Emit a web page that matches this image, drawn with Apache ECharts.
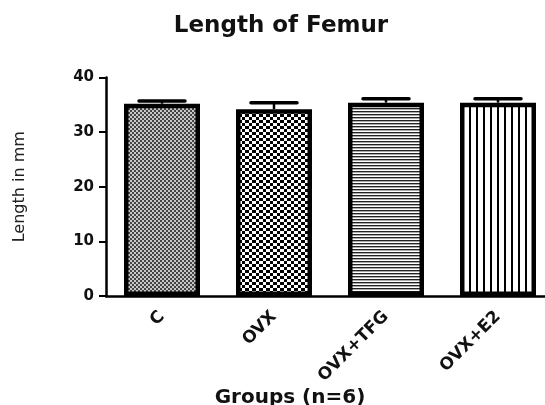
<!DOCTYPE html>
<html><head><meta charset="utf-8">
<script src="https://cdn.jsdelivr.net/npm/echarts@6/dist/echarts.min.js"></script>
<style>html,body{margin:0;padding:0;background:#fff}#c{width:545px;height:405px}</style>
</head><body><div id="c"></div>
<script>
const categories = ['C', 'OVX', 'OVX+TFG', 'OVX+E2'];
const means = [35.2, 34.2, 35.4, 35.4];
const errors = [0.5, 1.2, 0.7, 0.7];
const yTicks = [0, 10, 20, 30, 40];
const titleText = 'Length of Femur';
const xTitle = 'Groups (n=6)';
const yTitle = 'Length in mm';

function makeTile(w, h, draw) {
  const c = document.createElement('canvas');
  c.width = w; c.height = h;
  const g = c.getContext('2d');
  g.fillStyle = '#fff'; g.fillRect(0, 0, w, h);
  draw(g);
  return { image: c, repeat: 'repeat' };
}
const patterns = [
  makeTile(4, 4, g => { g.fillStyle = '#444'; g.fillRect(0,0,2,2); g.fillRect(2,2,2,2); g.fillStyle='#c8c8c8'; g.fillRect(2,0,2,2); g.fillRect(0,2,2,2);}),
  makeTile(7, 6, g => { g.fillStyle = '#000'; g.fillRect(0,0,4,3); g.fillRect(4,3,3,3); }),
  makeTile(3, 3, g => { g.fillStyle = '#222'; g.fillRect(0,0,3,1); g.fillStyle = '#aaa'; g.fillRect(0,1,3,1); }),
  makeTile(7, 7, g => { g.fillStyle = '#000'; g.fillRect(0,0,2,7); })
];

const chart = echarts.init(document.getElementById('c'));
chart.setOption({
  animation: false,
  backgroundColor: '#fff',
  grid: { left: 106, width: 448, top: 77.5, bottom: 109, containLabel: false, outerBoundsMode: 'none' },
  graphic: [
    { type: 'text', x: 281, y: 26, style: { text: titleText, font: 'bold 23px "DejaVu Sans"', fill: '#111', textAlign: 'center', textVerticalAlign: 'middle' } },
    { type: 'text', x: 290, y: 398, style: { text: xTitle, font: 'bold 20px "DejaVu Sans"', fill: '#111', textAlign: 'center', textVerticalAlign: 'middle' } }
  ],
  xAxis: {
    type: 'category', data: categories,
    axisLine: { lineStyle: { color: '#000', width: 2.5 } },
    axisTick: { alignWithLabel: true, length: 5, lineStyle: { color: '#000', width: 2 } },
    axisLabel: { rotate: 45, margin: 18, color: '#111', fontFamily: 'DejaVu Sans', fontWeight: 'bold', fontSize: 17 }
  },
  yAxis: {
    type: 'value', min: yTicks[0], max: yTicks[yTicks.length - 1], interval: 10,
    name: yTitle, nameLocation: 'middle', nameGap: 78, nameRotate: 90,
    nameTextStyle: { fontFamily: 'DejaVu Sans', fontSize: 16, color: '#222' },
    splitLine: { show: false },
    axisLine: { show: true, lineStyle: { color: '#000', width: 2.5 } },
    axisTick: { show: true, length: 7, lineStyle: { color: '#000', width: 2 } },
    axisLabel: { margin: 12, color: '#111', fontFamily: 'DejaVu Sans', fontWeight: 'bold', fontSize: 15 }
  },
  series: [
    {
      type: 'bar', barWidth: 76,
      data: means.map((v, i) => ({ value: v, itemStyle: { color: patterns[i], borderColor: '#000', borderWidth: 4.5 } })),
      z: 2
    },
    {
      type: 'custom', z: 3,
      data: means.map((v, i) => [i, v, v + errors[i]]),
      renderItem: (params, api) => {
        const base = api.coord([api.value(0), api.value(1)]);
        const top = api.coord([api.value(0), api.value(2)]);
        const hw = 23;
        return { type: 'group', children: [
          { type: 'line', shape: { x1: base[0], y1: base[1], x2: top[0], y2: top[1] }, style: { stroke: '#000', lineWidth: 2.5 } },
          { type: 'line', shape: { x1: top[0] - hw, y1: top[1], x2: top[0] + hw, y2: top[1] }, style: { stroke: '#000', lineWidth: 3.5, lineCap: 'round' } }
        ]};
      }
    }
  ]
});
</script></body></html>
